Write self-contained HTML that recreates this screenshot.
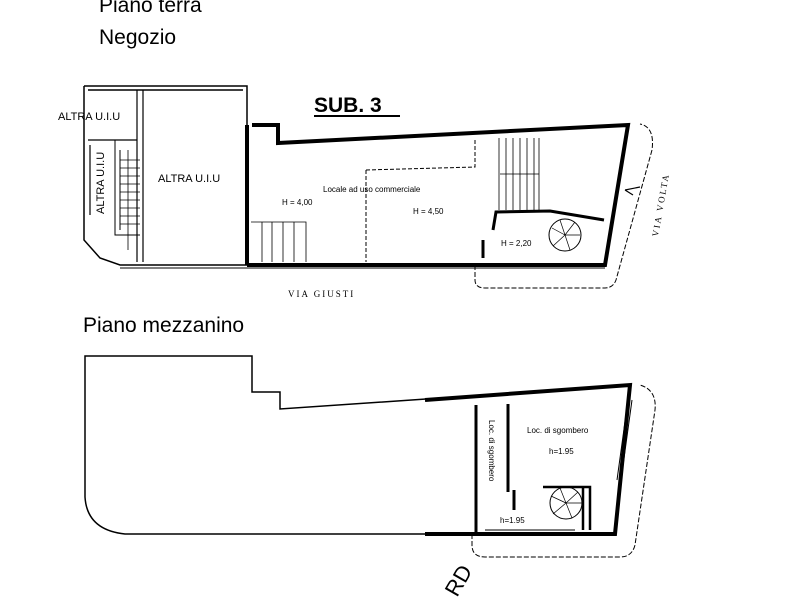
<!DOCTYPE html>
<html><head><meta charset="utf-8"><style>
html,body{margin:0;padding:0;background:#fff;}
svg{display:block;font-family:"Liberation Sans",sans-serif;}
</style></head><body>
<svg width="800" height="600" viewBox="0 0 800 600">
<g fill="#000">
<text x="99" y="12" font-size="21">Piano terra</text>
<text x="99" y="44" font-size="21">Negozio</text>
<text x="314" y="112" font-size="21" font-weight="bold">SUB. 3</text>
<rect x="314" y="115" width="86" height="2"/>
<text x="58" y="120" font-size="11">ALTRA U.I.U</text>
<text x="158" y="182" font-size="11">ALTRA U.I.U</text>
<text transform="translate(104,214) rotate(-90)" font-size="11">ALTRA U.I.U</text>
<text x="323" y="192" font-size="8">Locale ad uso commerciale</text>
<text x="282" y="205" font-size="8">H = 4,00</text>
<text x="413" y="214" font-size="8">H = 4,50</text>
<text x="501" y="246" font-size="8">H = 2,20</text>
<text x="288" y="297" font-size="9" font-family="Liberation Serif" letter-spacing="2">VIA GIUSTI</text>
<text transform="translate(658,237) rotate(-80)" font-size="9" font-family="Liberation Serif" letter-spacing="2">VIA VOLTA</text>
<text x="83" y="332" font-size="21">Piano mezzanino</text>
<text x="527" y="433" font-size="8">Loc. di sgombero</text>
<text x="549" y="454" font-size="8">h=1.95</text>
<text x="500" y="523" font-size="8">h=1.95</text>
<text transform="translate(489,420) rotate(90)" font-size="8">Loc. di sgombero</text>
<text transform="translate(457,598) rotate(-60)" font-size="22">RD</text>
</g>
<g fill="none" stroke="#000">
<path d="M84 86 H247 V265 M88 90 H243 M84 86 V240 L100 258 L120 265 H247" stroke-width="1.5"/>
<path d="M137 90 V262 M143 90 V262 M88 140 H137 M90 145 V215" stroke-width="1.2"/>
<path d="M115 140 V235 H140 M120 150 V230" stroke-width="1"/>
<g stroke-width="0.8"><path d="M120 160 H140 M120 168 H140 M120 176 H140 M120 184 H140 M120 192 H140 M120 200 H140 M120 208 H140 M120 216 H140 M120 224 H140 M128 150 V250"/></g>
<path d="M247 125 V265 M252 125 H278 V143 L628 125 L605 265 H247" stroke-width="4"/>
<path d="M120 265 H605 M120 268 H605" stroke-width="1"/>
<path d="M366 170 L475 167 V140 M366 170 V262" stroke-width="1" stroke-dasharray="4,2"/>
<path d="M251 222 H306 V262 M262 222 V262 M272 222 V262 M283 222 V262 M294 222 V262" stroke-width="0.8"/>
<path d="M499 138 V210 M506 138 V210 M513 138 V210 M520 138 V210 M527 138 V210 M534 138 V210 M539 138 V210 M500 174 H539" stroke-width="0.8"/>
<path d="M493 230 L496 212 L550 211 L604 220" stroke-width="3"/>
<circle cx="565" cy="235" r="16" stroke-width="1"/>
<path d="M565 235 L575 222 M565 235 L580 235 M565 235 L570 250 M565 235 L553 246 M565 235 L552 228 M565 235 L560 220" stroke-width="0.7"/>
<path d="M483 240 V258" stroke-width="3"/>
<path d="M625 190 L640 187 M625 190 L633 195" stroke-width="1.2"/>
<path d="M475 265 V280 Q475 288 485 288 H605 Q613 288 616 280 L652 150 Q655 127 640 124" stroke-width="1" stroke-dasharray="5,2"/>
<!-- mezzanine -->
<path d="M85 356 H252 V392 H280 V409 L630 385 L615 534 H125 Q87 530 85 497 Z" stroke-width="1.5"/>
<path d="M425 400 L630 385 L615 534 H425" stroke-width="4"/>
<path d="M476 405 V534 M508 404 V492 M514 490 V510" stroke-width="3"/>
<path d="M485 534 H575 M485 530 H575" stroke-width="1"/>
<path d="M543 487 H590 V530 M583 487 V530" stroke-width="2.5"/>
<circle cx="566" cy="503" r="16" stroke-width="1"/>
<path d="M566 503 L578 492 M566 503 L582 503 M566 503 L572 518 M566 503 L553 514 M566 503 L551 496 M566 503 L560 488" stroke-width="0.7"/>
<path d="M617 480 L628 400 M621 480 L632 400" stroke-width="1"/>
<path d="M472 534 V545 Q472 557 485 557 H620 Q632 557 635 545 L655 410 Q657 390 640 385" stroke-width="1" stroke-dasharray="5,2"/>
</g>
</svg>
</body></html>
